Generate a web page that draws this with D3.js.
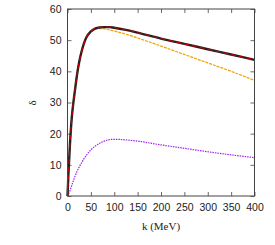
<!DOCTYPE html>
<html>
<head>
<meta charset="utf-8">
<script src="https://cdn.jsdelivr.net/npm/d3@7"></script>
<style>
  body { margin: 0; background: #fff; }
  .tick text { font-family: "Liberation Sans", Arial, sans-serif; font-size: 10.5px; fill: #222; }
  .lbl { font-family: "Liberation Serif", "Times New Roman", serif; font-size: 11px; fill: #222; }
</style>
</head>
<body>
<svg id="chart" width="275" height="245"></svg>
<script>
// momentum k (MeV) and phase shifts
var kFull  = [0, 2, 5, 8, 10, 13, 16, 20, 25, 30, 35, 40, 50, 60, 70, 80, 90, 100, 125, 150, 200, 250, 300, 350, 400];
var dBlack = [0, 7, 16, 23, 26.5, 30.5, 34, 38.5, 43, 46.3, 48.9, 50.8, 52.8, 53.8, 54.1, 54.2, 54.2, 54.0, 53.3, 52.4, 50.5, 48.8, 47.1, 45.4, 43.7];
var dOrange = [0, 7, 16, 23, 26.5, 30.5, 34, 38.5, 43, 46.3, 48.8, 50.7, 52.6, 53.5, 53.7, 53.6, 53.3, 52.9, 51.9, 50.7, 48.1, 45.4, 42.7, 40.0, 37.1];
var dPurple = [0, 0.6, 1.6, 2.9, 3.8, 5.1, 6.3, 7.8, 9.3, 10.6, 11.9, 13.0, 14.8, 16.1, 17.0, 17.7, 18.1, 18.2, 18.0, 17.6, 16.4, 15.3, 14.2, 13.2, 12.3];
var xTicks = [0, 50, 100, 150, 200, 250, 300, 350, 400];
var yTicks = [0, 10, 20, 30, 40, 50, 60];

var svg = d3.select('#chart');
var margin = { top: 9, right: 20.5, bottom: 49, left: 67.5 },
    width = 275 - margin.left - margin.right,
    height = 245 - margin.top - margin.bottom;

var g = svg.append("g")
    .attr("transform", "translate(" + margin.left + "," + margin.top + ")");

var x = d3.scaleLinear().domain([0, 400]).range([0, width]);
var y = d3.scaleLinear().domain([0, 60]).range([height, 0]);

// axes, ticks pointing inward, mirrored on top and right
var axisColor = "#444";
function styleAxis(sel) {
  sel.select(".domain").remove();
  sel.selectAll(".tick line").attr("stroke", axisColor).attr("stroke-width", 0.8);
}
g.append("g").attr("transform", "translate(0," + height + ")")
    .call(d3.axisBottom(x).tickValues(xTicks).tickSizeInner(-4).tickSizeOuter(0).tickPadding(8))
    .call(styleAxis);
g.append("g")
    .call(d3.axisLeft(y).tickValues(yTicks).tickSizeInner(-4).tickSizeOuter(0).tickPadding(6))
    .call(styleAxis);
g.append("g")
    .call(d3.axisTop(x).tickValues(xTicks).tickSizeInner(-4).tickFormat(""))
    .call(styleAxis);
g.append("g").attr("transform", "translate(" + width + ",0)")
    .call(d3.axisRight(y).tickValues(yTicks).tickSizeInner(-4).tickFormat(""))
    .call(styleAxis);

var line = d3.line()
    .x(function(d) { return x(d[0]); })
    .y(function(d) { return y(d[1]); })
    .curve(d3.curveMonotoneX);

function series(vals) { return kFull.map(function(k, i) { return [k, vals[i]]; }); }

g.append("path").datum(series(dPurple)).attr("d", line)
    .attr("fill", "none").attr("stroke", "#a020f0").attr("stroke-width", 1.2)
    .attr("stroke-dasharray", "1.5,1");
g.append("path").datum(series(dOrange)).attr("d", line)
    .attr("fill", "none").attr("stroke", "#f0a000").attr("stroke-width", 1.2)
    .attr("stroke-dasharray", "3,1");
g.append("path").datum(series(dBlack)).attr("d", line)
    .attr("fill", "none").attr("stroke", "#222").attr("stroke-width", 2.4);
g.append("path").datum(series(dBlack)).attr("d", line)
    .attr("fill", "none").attr("stroke", "#c00000").attr("stroke-width", 1.3)
    .attr("stroke-dasharray", "5,3");

// frame
g.append("rect").attr("width", width).attr("height", height)
    .attr("fill", "none").attr("stroke", axisColor).attr("stroke-width", 1);

svg.append("text").attr("class", "lbl")
    .attr("x", margin.left + width / 2).attr("y", 230)
    .attr("text-anchor", "middle").text("k (MeV)");
svg.append("text").attr("class", "lbl")
    .attr("transform", "translate(36,103) rotate(-90)")
    .attr("text-anchor", "middle").text("δ");
</script>
</body>
</html>
